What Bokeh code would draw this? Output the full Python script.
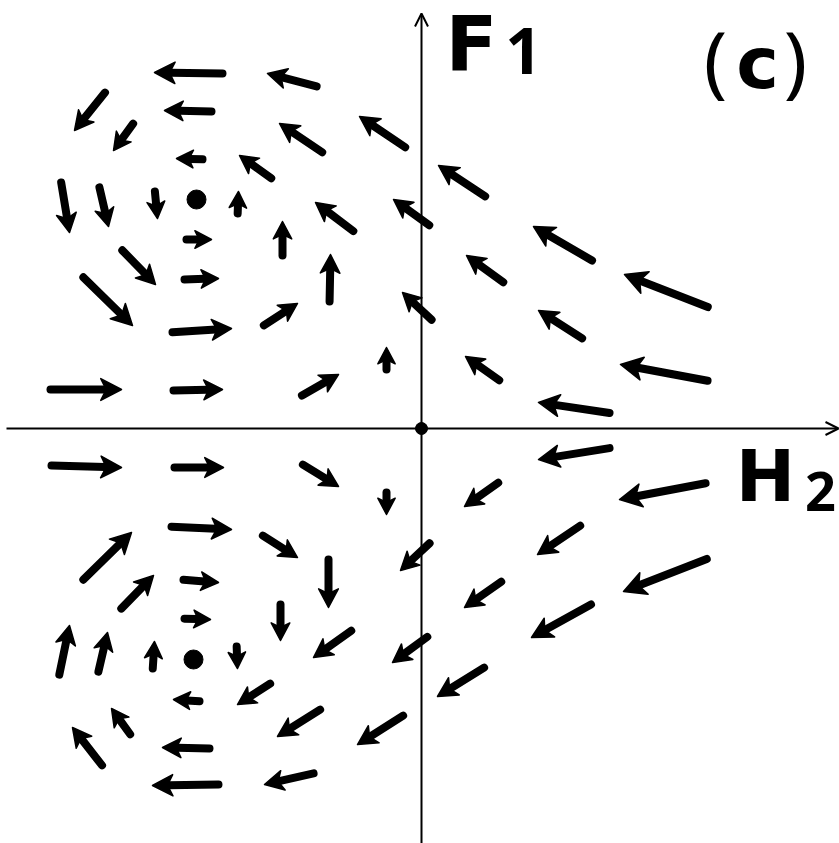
import numpy as np
from bokeh.plotting import figure
from bokeh.models import ColumnDataSource, Arrow, OpenHead, Range1d
from bokeh.core.properties import value
from bokeh.embed import file_html
from bokeh.resources import INLINE

# Flow field in the (H2, F1) plane: tail position of each arrow and its components
h2 = [-195, -101, -314, -206, -286, -96, -13, -215, -147, -361, -323, -267,
      -184, -65, 11, -239, -139, -302, -241, -92, -341, -253, -161, 13, -35,
      -375, -252, -123,
      67, 174, 85, 290, 164, 81, 290, 192,
      -374, -251, -122, -35, -254, -162, -341, -242, -93, 11, -303, -241,
      -141, -67, 9, -363, -324, -269, -185, -218, -148, -289, -317, -208,
      -98, -15, -199, -104,
      192, 80, 288, 162, 83, 289, 173, 66]
f1 = [355, 341, 339, 317, 308, 274, 279, 269, 248, 250, 245, 241,
      211, 195, 201, 189, 169, 181, 149, 123, 154, 96, 101, 106, 55,
      39, 38, 31,
      230, 166, 144, 120, 88, 46, 47, 15,
      -37, -39, -34, -60, -98, -105, -154, -151, -127, -112, -183, -190,
      -172, -200, -206, -250, -247, -244, -214, -273, -253, -309, -340, -320,
      -279, -285, -356, -344,
      -19, -52, -54, -95, -151, -129, -174, -237]
dh2 = [-72, -53, -33, -51, -22, -46, -49, -30, -35, 9, 10, 3,
       1, -41, -39, 29, 0, 36, 38, 1, 52, 63, 37, -32, 0,
       75, 53, 40,
       -50, -62, -40, -87, -47, -37, -91, -75,
       74, 53, 39, 0, 64, 38, 51, 39, 0, -32, 35, 30,
       0, -41, -38, 11, 10, 2, 1, -30, -36, -21, -32, -51,
       -46, -49, -70, -53,
       -75, -37, -90, -46, -40, -87, -63, -50]
df1 = [1, 14, -41, 1, -30, 31, 33, 1, 25, -54, -43, -31,
       26, 31, 28, 0, 38, -37, 1, 51, -51, 4, 24, 30, 26,
       0, 1, 23,
       33, 36, 29, 34, 30, 26, 17, 11,
       -2, 0, -24, -26, -3, -24, 50, -3, -52, -30, 36, -1,
       -40, -29, -28, 53, 43, 31, -26, 2, -23, 29, 41, 1,
       -29, -31, -1, -12,
       -12, -26, -17, -31, -28, -34, -35, -31]

# Fixed points of the flow (origin and the two vortex centres)
centre_h2 = [-225, -228]
centre_f1 = [229, -231]
origin_h2 = [0]
origin_f1 = [0]

h2 = np.array(h2, float)
f1 = np.array(f1, float)
dh2 = np.array(dh2, float)
df1 = np.array(df1, float)
length = np.hypot(dh2, df1)
ux, uy = dh2 / length, df1 / length      # unit direction
nx, ny = -uy, ux                          # unit normal
shaft_w = 8
cap = shaft_w / 2
head = np.clip(14 + 0.09 * length, 16, 22)   # head length grows slowly with the arrow

tip_x, tip_y = h2 + dh2, f1 + df1
back_x, back_y = tip_x - head * ux, tip_y - head * uy
notch_x, notch_y = tip_x - 0.74 * head * ux, tip_y - 0.74 * head * uy
half = 0.5 * head + 0.5

head_xs = [[tx, bx + hw * a, nx_, bx - hw * a]
           for tx, bx, nx_, hw, a in zip(tip_x, back_x, notch_x, half, nx)]
head_ys = [[ty, by + hw * a, ny_, by - hw * a]
           for ty, by, ny_, hw, a in zip(tip_y, back_y, notch_y, half, ny)]

shafts = ColumnDataSource(dict(
    x0=h2 + ux * cap, y0=f1 + uy * cap,
    x1=tip_x - 0.8 * head * ux, y1=tip_y - 0.8 * head * uy,
))
heads = ColumnDataSource(dict(xs=head_xs, ys=head_ys))

p = figure(width=839, height=843, output_backend="svg", toolbar_location=None,
           x_range=Range1d(-421, 418), y_range=Range1d(-415, 428),
           min_border=0, background_fill_color="white", border_fill_color="white")
p.axis.visible = False
p.grid.visible = False
p.outline_line_color = None

# coordinate axes
p.add_layout(Arrow(end=OpenHead(size=13, line_width=2, line_color="black"),
                   x_start=-415, y_start=0, x_end=417, y_end=0,
                   line_width=2, line_color="black"))
p.add_layout(Arrow(end=OpenHead(size=13, line_width=2, line_color="black"),
                   x_start=0, y_start=-418, x_end=0, y_end=415,
                   line_width=2, line_color="black"))

# flow arrows: shafts and vee heads
p.segment(x0="x0", y0="y0", x1="x1", y1="y1", source=shafts,
          line_width=shaft_w, line_color="black", line_cap="round")
p.patches(xs="xs", ys="ys", source=heads, fill_color="black",
          line_color="black", line_width=1.5, line_join="round")

p.scatter(centre_h2, centre_f1, size=19, color="black")
p.scatter(origin_h2, origin_f1, size=12, color="black")

bold = dict(text_color="black", text_font_style="bold")
p.text(x=[24], y=[384], text=["F"], text_font=value("DejaVu Sans"),
       text_font_size="76px", text_align="left", text_baseline="alphabetic", **bold)
p.text(x=[102], y=[378], text=["1"], text_font=value("Noto Sans"),
       text_font_size="64px", text_align="center", text_baseline="alphabetic", **bold)
p.text(x=[344], y=[-48], text=["H"], text_font=value("DejaVu Sans"),
       text_font_size="71px", text_align="center", text_baseline="alphabetic", **bold)
p.text(x=[399], y=[-63], text=["2"], text_font=value("Noto Sans"),
       text_font_size="54px", text_align="center", text_baseline="alphabetic", **bold)
p.text(x=[336], y=[366], text=["c"], text_font=value("DejaVu Sans"),
       text_font_size="72px", text_align="center", text_baseline="alphabetic", **bold)
p.text(x=[294, 374], y=[370, 370], text=["(", ")"], text_font=value("Noto Sans"),
       text_font_size="78px", text_align="center", text_baseline="alphabetic",
       text_color="black", text_font_style="normal")

open("out.html", "w").write(file_html(p, INLINE))
